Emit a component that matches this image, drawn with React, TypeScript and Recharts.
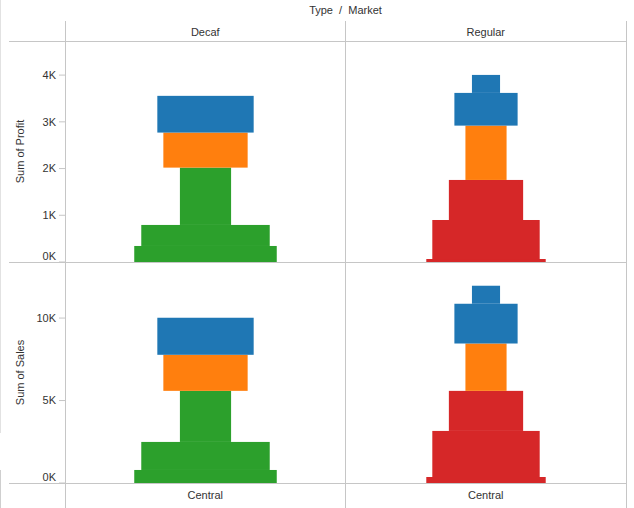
import { BarChart, Bar, XAxis, YAxis } from "recharts";

const types = ["Decaf", "Regular"];
const markets = ["Central"];
const segmentKeys = ["s0", "s1", "s2", "s3", "s4", "s5"];

// stacked segments, bottom to top
const decafProfit = [343, 450, 1227, 750, 786];
const regularProfit = [64, 835, 857, 1163, 700, 385];
const decafSales = [790, 1700, 3097, 2186, 2247];
const regularSales = [364, 2793, 2429, 2872, 2410, 1093];

// size measure per segment (drives mark width)
const decafSize = [142, 128, 51, 84, 96];
const regularSize = [119, 107, 74, 41, 63, 28];
const sizeFull = 280;

const decafColors = ["#2ca02c", "#2ca02c", "#2ca02c", "#ff7f0e", "#1f77b4"];
const regularColors = ["#d62728", "#d62728", "#d62728", "#ff7f0e", "#1f77b4", "#1f77b4"];

const profitTicks = [0, 1000, 2000, 3000, 4000];
const salesTicks = [0, 5000, 10000];

const FONT = "'Liberation Sans', Arial, sans-serif";
const LINE = "#c6c6c6";
const TEXT = "#333";

function buildRow(type: string, values: number[], sizes: number[], colors: string[]) {
  const row: any = { type, sizes, colors };
  values.forEach((v, i) => {
    row[segmentKeys[i]] = v;
  });
  return row;
}

const profitData = [
  buildRow(types[0], decafProfit, decafSize, decafColors),
  buildRow(types[1], regularProfit, regularSize, regularColors),
];
const salesData = [
  buildRow(types[0], decafSales, decafSize, decafColors),
  buildRow(types[1], regularSales, regularSize, regularColors),
];

const makeShape = (seg: number) => (props: any) => {
  const { x, y, width, height, payload } = props;
  const size = payload?.sizes?.[seg];
  if (size == null || !height) return <g />;
  const w = (size / sizeFull) * width;
  return <rect x={x + width / 2 - w / 2} y={y} width={w} height={height} fill={payload.colors[seg]} />;
};

const YTick = ({ x, y, payload }: any) => (
  <text
    x={x}
    y={payload.value === 0 ? y - 6 : y}
    dy="0.35em"
    textAnchor="end"
    fill={TEXT}
    fontSize={11}
    fontFamily={FONT}
  >
    {payload.value / 1000 + "K"}
  </text>
);

function Segments() {
  return segmentKeys.map((k, i) => (
    <Bar key={k} dataKey={k} stackId="a" shape={makeShape(i)} isAnimationActive={false} />
  ));
}

export default function App() {
  const axisLabelStyle = { textAnchor: "middle" as const, fill: TEXT, fontSize: 11, fontFamily: FONT };
  return (
    <div style={{ position: "absolute", left: 0, top: 0, width: 634, height: 508, background: "#fff", fontFamily: FONT }}>
      <div
        style={{
          position: "absolute",
          left: 65,
          width: 561,
          top: 4,
          textAlign: "center",
          fontSize: 11,
          color: TEXT,
          whiteSpace: "pre",
        }}
      >
        {"Type  /  Market"}
      </div>

      <div style={{ position: "absolute", left: 0, top: 21 }}>
        <BarChart
          width={634}
          height={245}
          data={profitData}
          margin={{ top: 0, right: 8, bottom: 4, left: 10 }}
          barCategoryGap={0}
        >
          <XAxis
            dataKey="type"
            orientation="top"
            height={20}
            axisLine={false}
            tickLine={false}
            tickSize={0}
            tickMargin={5}
            tick={{ fill: TEXT, fontSize: 11, fontFamily: FONT }}
          />
          <YAxis
            width={55}
            domain={[0, 4730]}
            ticks={profitTicks}
            interval={0}
            axisLine={false}
            tickLine={{ stroke: LINE }}
            tickSize={6}
            tickMargin={3}
            tick={<YTick />}
            label={{ value: "Sum of Profit", angle: -90, position: "insideLeft", offset: 10, style: axisLabelStyle }}
          />
          {Segments()}
        </BarChart>
      </div>

      <div style={{ position: "absolute", left: 0, top: 262 }}>
        <BarChart
          width={634}
          height={246}
          data={salesData}
          margin={{ top: 0, right: 8, bottom: 0, left: 10 }}
          barCategoryGap={0}
        >
          <XAxis
            dataKey="type"
            height={25}
            axisLine={false}
            tickLine={false}
            tickSize={0}
            tickMargin={8}
            tickFormatter={() => markets[0]}
            tick={{ fill: TEXT, fontSize: 11, fontFamily: FONT }}
          />
          <YAxis
            width={55}
            domain={[0, 13400]}
            ticks={salesTicks}
            interval={0}
            axisLine={false}
            tickLine={{ stroke: LINE }}
            tickSize={6}
            tickMargin={3}
            tick={<YTick />}
            label={{ value: "Sum of Sales", angle: -90, position: "insideLeft", offset: 10, style: axisLabelStyle }}
          />
          {Segments()}
        </BarChart>
      </div>

      <svg width={634} height={508} style={{ position: "absolute", left: 0, top: 0, pointerEvents: "none" }}>
        <line x1={0.5} x2={0.5} y1={0} y2={433} stroke="#e2e2e2" />
        <line x1={0.5} x2={0.5} y1={470} y2={508} stroke="#cfcfcf" />
        <line x1={65.5} x2={65.5} y1={21} y2={508} stroke={LINE} />
        <line x1={345.5} x2={345.5} y1={21} y2={508} stroke={LINE} />
        <line x1={626.5} x2={626.5} y1={21} y2={508} stroke={LINE} />
        <line x1={9} x2={627} y1={41.5} y2={41.5} stroke={LINE} />
        <line x1={9} x2={627} y1={262.5} y2={262.5} stroke={LINE} />
        <line x1={9} x2={627} y1={483.5} y2={483.5} stroke={LINE} />
      </svg>
    </div>
  );
}
